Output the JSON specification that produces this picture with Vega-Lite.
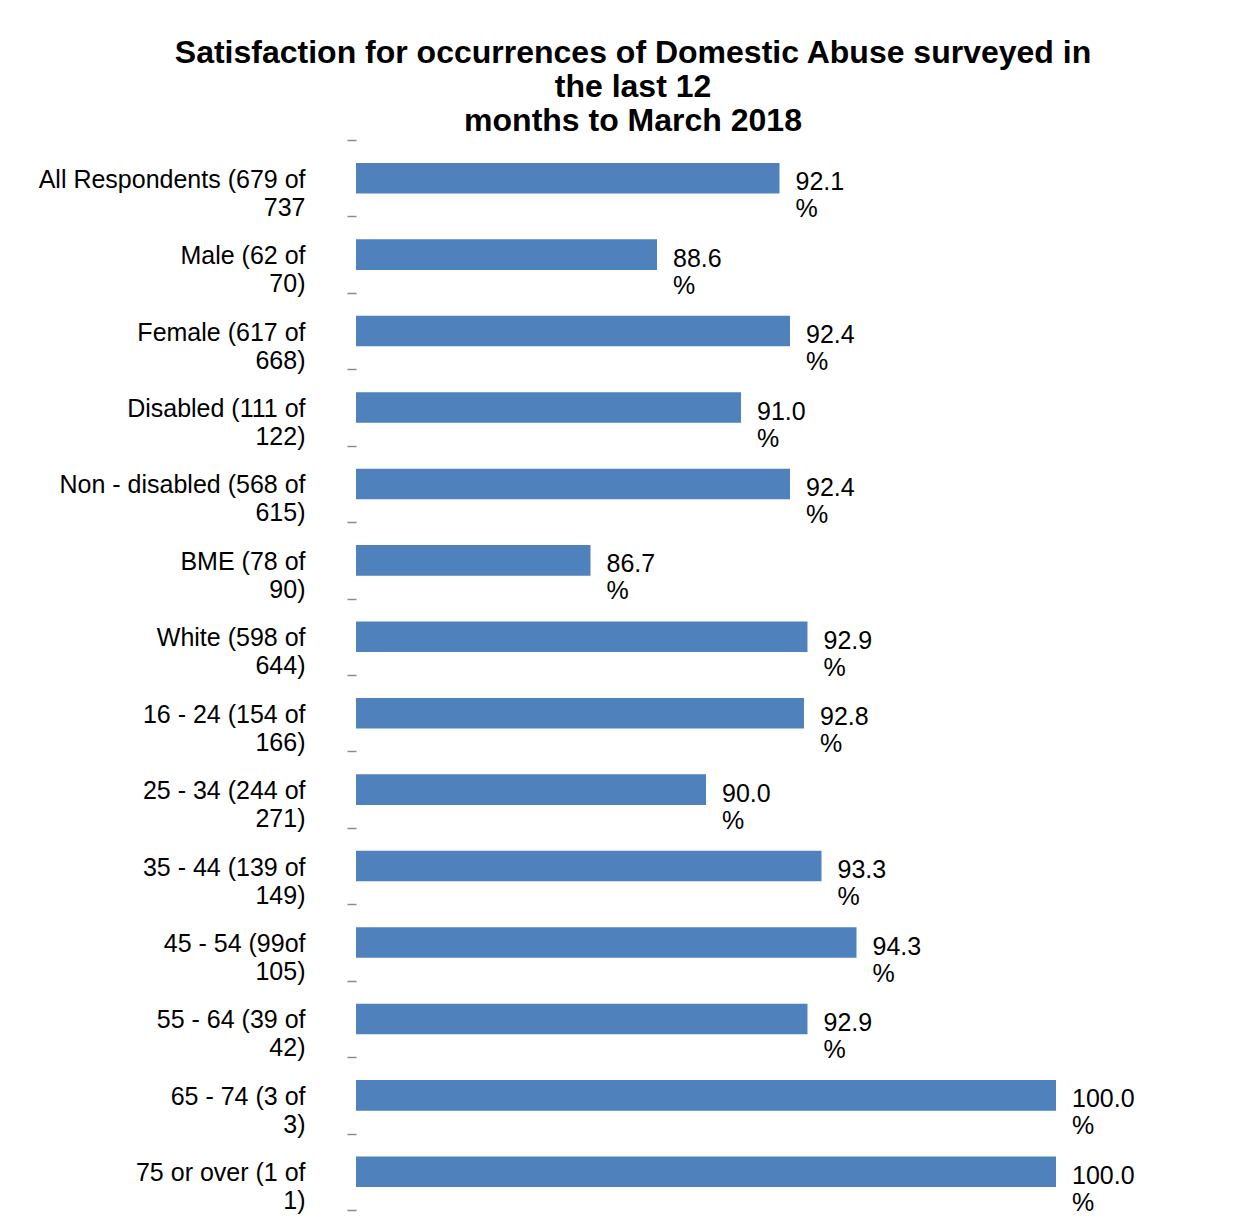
{
  "$schema": "https://vega.github.io/schema/vega-lite/v6.json",
  "width": 700,
  "height": 1070,
  "autosize": {"type": "none"},
  "padding": {"left": 356, "top": 140, "right": 195, "bottom": 20},
  "background": "white",
  "title": {
    "text": ["Satisfaction for occurrences of Domestic Abuse surveyed in", "the last 12", "months to March 2018"],
    "font": "Liberation Sans",
    "fontSize": 32,
    "fontWeight": "bold",
    "color": "black",
    "anchor": "middle",
    "dx": -73,
    "lineHeight": 34,
    "offset": -18
  },
  "data": {
    "values": [
      {"label": "All Respondents (679 of\n737", "value": 92.1},
      {"label": "Male (62 of\n70)", "value": 88.6},
      {"label": "Female (617 of\n668)", "value": 92.4},
      {"label": "Disabled (111 of\n122)", "value": 91.0},
      {"label": "Non - disabled (568 of\n615)", "value": 92.4},
      {"label": "BME (78 of\n90)", "value": 86.7},
      {"label": "White (598 of\n644)", "value": 92.9},
      {"label": "16 - 24 (154 of\n166)", "value": 92.8},
      {"label": "25 - 34 (244 of\n271)", "value": 90.0},
      {"label": "35 - 44 (139 of\n149)", "value": 93.3},
      {"label": "45 - 54 (99of\n105)", "value": 94.3},
      {"label": "55 - 64 (39 of\n42)", "value": 92.9},
      {"label": "65 - 74 (3 of\n3)", "value": 100.0},
      {"label": "75 or over (1 of\n1)", "value": 100.0}
    ]
  },
  "encoding": {
    "y": {
      "field": "label",
      "type": "nominal",
      "sort": null,
      "scale": {"paddingInner": 0, "paddingOuter": 0},
      "axis": {
        "title": null,
        "domain": false,
        "tickBand": "extent",
        "ticks": true,
        "tickSize": 9,
        "tickWidth": 1.5,
        "tickColor": "#8c8c8c",
        "labelExpr": "split(datum.label, '\\n')",
        "labelFont": "Liberation Sans",
        "labelFontSize": 25,
        "labelColor": "black",
        "labelAlign": "right",
        "labelBaseline": "alphabetic",
        "labelOffset": 9,
        "labelLineHeight": 28,
        "labelPadding": 42,
        "labelLimit": 400
      }
    },
    "x": {
      "field": "value",
      "type": "quantitative",
      "scale": {"domain": [80, 100], "nice": false, "zero": false},
      "axis": null
    }
  },
  "layer": [
    {
      "mark": {"type": "bar", "color": "#4F81BD", "height": {"band": 0.4}, "clip": true}
    },
    {
      "mark": {"type": "text", "align": "left", "baseline": "alphabetic", "dx": 16, "dy": 12, "font": "Liberation Sans", "fontSize": 25, "color": "black"},
      "encoding": {"text": {"field": "value", "type": "quantitative", "format": ".1f"}}
    },
    {
      "mark": {"type": "text", "text": "%", "align": "left", "baseline": "alphabetic", "dx": 16, "dy": 39, "font": "Liberation Sans", "fontSize": 25, "color": "black"},
      "encoding": {}
    }
  ],
  "config": {"view": {"stroke": null}}
}
